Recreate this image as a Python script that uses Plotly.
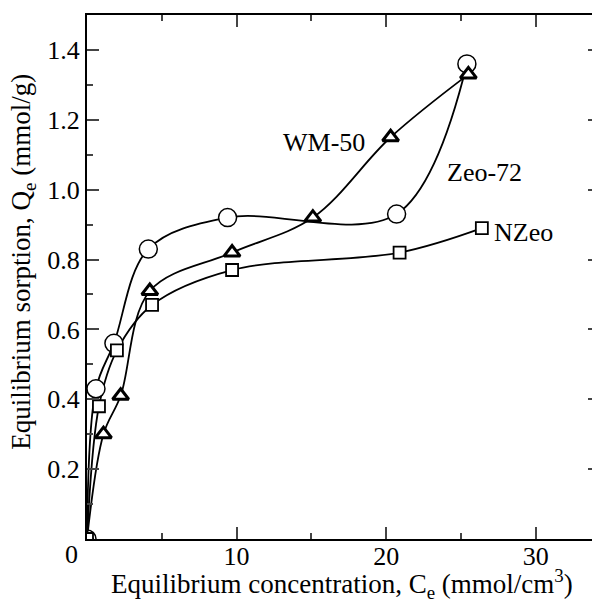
import plotly.graph_objects as go

# Data
zeo72_x = [0.0, 0.6, 1.8, 4.1, 9.4, 20.7, 25.4]
zeo72_y = [0.0, 0.43, 0.56, 0.83, 0.92, 0.93, 1.36]

wm50_x = [0.0, 1.1, 2.25, 4.2, 9.7, 15.1, 20.3, 25.5]
wm50_y = [0.0, 0.30, 0.41, 0.71, 0.82, 0.92, 1.15, 1.33]

nzeo_x = [0.0, 0.8, 2.0, 4.35, 9.7, 20.9, 26.4]
nzeo_y = [0.0, 0.38, 0.54, 0.67, 0.77, 0.82, 0.89]

series_labels = ["Zeo-72", "WM-50", "NZeo"]
label_x = [23.95, 13.0, 27.1]
label_y = [1.05, 1.135, 0.877]

x_ticks = [10, 20, 30]
y_ticks = [0.2, 0.4, 0.6, 0.8, 1.0, 1.2, 1.4]

x_title = "Equilibrium concentration, C<sub>e</sub> (mmol/cm<sup>3</sup>)"
y_title = "Equilibrium sorption, Q<sub>e</sub> (mmol/g)"

FONT = "Times New Roman, Liberation Serif, DejaVu Serif, serif"

fig = go.Figure()

series = [
    (zeo72_x, zeo72_y, "circle", 18, 1.5, "Zeo-72"),
    (wm50_x, wm50_y, "triangle-up", 14, 3, "WM-50"),
    (nzeo_x, nzeo_y, "square", 12, 1.8, "NZeo"),
]

# lines first
for xs, ys, sym, sz, lw, name in series:
    fig.add_trace(go.Scatter(x=xs, y=ys, mode="lines", name=name,
                             line=dict(color="black", width=1.8, shape="spline", smoothing=1.0),
                             showlegend=False, hoverinfo="skip"))
# markers on top (white-filled)
for xs, ys, sym, sz, lw, name in series:
    fig.add_trace(go.Scatter(x=xs, y=ys, mode="markers", name=name,
                             marker=dict(symbol=sym, size=sz, color="white",
                                         line=dict(color="black", width=lw)),
                             showlegend=False))

for t, xx, yy in zip(series_labels, label_x, label_y):
    fig.add_annotation(x=xx, y=yy, text=t, showarrow=False, xanchor="left", yanchor="middle",
                       font=dict(family=FONT, size=26, color="black"))

# shared origin label
fig.add_annotation(x=0, y=0, text="0", showarrow=False, xanchor="right", yanchor="top",
                   xshift=-7, yshift=1, font=dict(family=FONT, size=26, color="black"))

# axis titles (plot area is 513 x 524 px)
fig.add_annotation(xref="paper", yref="paper", x=0.498, y=-0.046, text=x_title,
                   showarrow=False, xanchor="center", yanchor="top",
                   font=dict(family=FONT, size=27, color="black"))
fig.add_annotation(xref="paper", yref="paper", x=-0.125, y=0.529, text=y_title,
                   showarrow=False, xanchor="center", yanchor="middle", textangle=-90,
                   font=dict(family=FONT, size=27, color="black"))

# page body adds 8px offset, so the figure is 592 px square
fig.update_layout(
    width=592, height=592,
    margin=dict(l=79, r=0, t=7, b=61, autoexpand=False),
    paper_bgcolor="white", plot_bgcolor="white",
    font=dict(family=FONT, size=26, color="black"),
    xaxis=dict(range=[0, 34.3], tickvals=x_ticks, ticks="inside", ticklen=12, tickwidth=2,
               showline=True, linewidth=2, linecolor="black", mirror="ticks",
               showgrid=False, zeroline=False, automargin=False, ticklabelstandoff=-7,
               minor=dict(ticks="inside", ticklen=6, tickwidth=2, dtick=5, tick0=0, showgrid=False),
               tickfont=dict(family=FONT, size=26, color="black")),
    yaxis=dict(range=[0, 1.5], tickvals=y_ticks, tickformat=".1f", ticks="inside", ticklen=12, tickwidth=2,
               showline=True, linewidth=2, linecolor="black", mirror="ticks",
               showgrid=False, zeroline=False, automargin=False,
               minor=dict(ticks="inside", ticklen=6, tickwidth=2, dtick=0.1, tick0=0, showgrid=False),
               tickfont=dict(family=FONT, size=26, color="black")),
)

fig.write_html("out.html")
